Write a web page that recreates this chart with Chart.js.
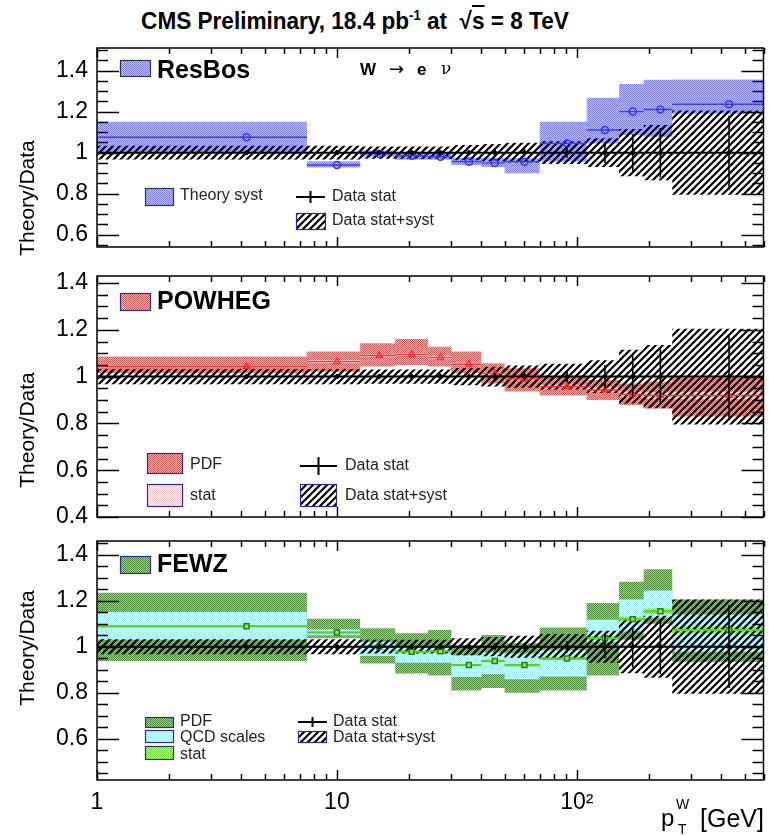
<!DOCTYPE html>
<html>
<head>
<meta charset="utf-8">
<script src="https://cdn.jsdelivr.net/npm/chart.js@4.4.1/dist/chart.umd.min.js"></script>
<style>
  body { margin: 0; background: #fff; }
  #wrap { position: relative; width: 769px; height: 836px; font-family: 'Liberation Sans', Arial, sans-serif; color: #000; }
  #wrap canvas { position: absolute; left: 0; top: 0; }
  .txt { position: absolute; white-space: nowrap; line-height: 1; }
  #title { left: 0; width: 710px; top: 8px; text-align: center; font-weight: bold; font-size: 24px; transform: scaleX(0.94); transform-origin: 354px 0; }
  #title sup { font-size: 14px; vertical-align: 9px; }
  .ov { text-decoration: overline; }
</style>
</head>
<body>
<div id="wrap">
  <div id="title" class="txt">CMS Preliminary, 18.4 pb<sup>-1</sup> at &nbsp;√<span class="ov">s</span> = 8 TeV</div>
  <canvas id="resbos" width="769" height="836"></canvas>
  <canvas id="powheg" width="769" height="836"></canvas>
  <canvas id="fewz" width="769" height="836"></canvas>
  <div class="txt" style="left:661px; top:806px; font-size:24px;">p</div>
  <div class="txt" style="left:676px; top:797px; font-size:14px;">W</div>
  <div class="txt" style="left:678px; top:822px; font-size:14px;">T</div>
  <div class="txt" style="left:700px; top:806px; font-size:25px;">[GeV]</div>
</div>
<script>
// pT bins (GeV) and the mean pT of each bin
const BIN_EDGES = [1, 7.5, 12.5, 17.5, 24, 30, 40, 50, 70, 110, 150, 190, 250, 600];
const BIN_MEAN = [4.2, 10, 15, 20.5, 27, 35.5, 45.5, 60.5, 91, 131, 171, 223, 431];

// data / data, with stat and stat+syst half widths
const DATA_RATIO = [1, 1, 1, 1, 1, 1, 1, 1, 1, 1, 1, 1, 1];
const DATA_STAT = [0.008, 0.01, 0.01, 0.01, 0.012, 0.012, 0.015, 0.018, 0.025, 0.05, 0.09, 0.12, 0.18];
const DATA_TOTAL = [0.033, 0.033, 0.03, 0.03, 0.03, 0.037, 0.042, 0.048, 0.055, 0.07, 0.115, 0.135, 0.205];

// ResBos / data
const RESBOS = [1.075, 0.94, 0.995, 0.985, 0.98, 0.956, 0.95, 0.956, 1.045, 1.11, 1.2, 1.21, 1.236];
const RESBOS_LO = [1.0, 0.928, 0.98, 0.965, 0.965, 0.94, 0.93, 0.9, 0.956, 1.045, 1.086, 1.078, 1.19];
const RESBOS_HI = [1.15, 0.958, 1.01, 1.0, 0.995, 0.975, 0.975, 0.972, 1.151, 1.268, 1.335, 1.355, 1.356];

// POWHEG / data
const POWHEG = [1.043, 1.064, 1.09, 1.095, 1.081, 1.053, 1.014, 0.99, 0.957, 0.943, 0.924, 0.919, 0.919];
const POWHEG_PDF_LO = [1.014, 1.021, 1.043, 1.05, 1.043, 1.014, 0.971, 0.936, 0.919, 0.9, 0.879, 0.864, 0.83];
const POWHEG_PDF_HI = [1.086, 1.107, 1.143, 1.161, 1.128, 1.107, 1.057, 1.036, 1.0, 0.986, 0.971, 0.979, 0.995];
const POWHEG_STAT = [0.005, 0.006, 0.006, 0.006, 0.006, 0.006, 0.007, 0.007, 0.008, 0.01, 0.012, 0.014, 0.016];

// FEWZ / data
const FEWZ = [1.089, 1.062, 1.0, 0.978, 0.98, 0.92, 0.938, 0.92, 0.949, 1.037, 1.12, 1.154, 1.073];
const FEWZ_PDF_LO = [0.938, 1.037, 0.927, 0.883, 0.875, 0.81, 0.82, 0.8, 0.81, 0.875, 1.03, 1.1, 0.934];
const FEWZ_PDF_HI = [1.235, 1.122, 1.08, 1.059, 1.073, 1.007, 1.051, 1.015, 1.084, 1.19, 1.283, 1.337, 1.205];
const FEWZ_QCD_LO = [1.03, 1.05, 0.96, 0.93, 0.93, 0.868, 0.88, 0.858, 0.87, 1.02, 1.066, 1.125, 0.978];
const FEWZ_QCD_HI = [1.151, 1.075, 1.02, 1.0, 1.0, 0.963, 0.975, 0.97, 0.985, 1.117, 1.205, 1.245, 1.14];
const FEWZ_STAT = [0.005, 0.005, 0.005, 0.005, 0.005, 0.005, 0.006, 0.006, 0.007, 0.008, 0.01, 0.012, 0.014];

const X_TICKS = [1, 10, 100];
const X_LABELS = ['1', '10', '10²'];

Chart.defaults.font.family = "'Liberation Sans', Arial, sans-serif";
Chart.defaults.color = '#000';

function checker(a, b) {
  const c = document.createElement('canvas');
  c.width = 2; c.height = 2;
  const g = c.getContext('2d');
  g.fillStyle = b; g.fillRect(0, 0, 2, 2);
  g.fillStyle = a; g.fillRect(0, 0, 1, 1); g.fillRect(1, 1, 1, 1);
  return g.createPattern(c, 'repeat');
}

function hatch() {
  const s = 7;
  const c = document.createElement('canvas');
  c.width = s; c.height = s;
  const g = c.getContext('2d');
  g.strokeStyle = '#000';
  g.lineWidth = 2.2;
  g.beginPath();
  g.moveTo(0, s); g.lineTo(s, 0);
  g.moveTo(-1, 1); g.lineTo(1, -1);
  g.moveTo(s - 1, s + 1); g.lineTo(s + 1, s - 1);
  g.stroke();
  return g.createPattern(c, 'repeat');
}

const FILL = {
  resbos: checker('#7c7cff', '#c4c4ff'),
  powhegPdf: checker('#cf5a5a', '#f2b8b8'),
  powhegStat: checker('#f6caca', '#fff0f0'),
  fewzPdf: checker('#4c8a38', '#a9c99a'),
  fewzQcd: checker('#a6eefa', '#d6fbff'),
  fewzStat: checker('#72dd3a', '#b8f59a'),
  hatch: hatch()
};

// one point per bin edge, stepped so each bin is a flat box
function stepLine(vals) {
  return BIN_EDGES.map((x, i) => ({ x, y: vals[Math.min(i, vals.length - 1)] }));
}

// a flat segment across each bin, broken between bins
function binSegments(vals) {
  const pts = [];
  vals.forEach((v, i) => {
    pts.push({ x: BIN_EDGES[i], y: v }, { x: BIN_EDGES[i + 1], y: v }, { x: BIN_EDGES[i + 1], y: null });
  });
  return pts;
}

function errorBars(vals, errs) {
  const pts = [];
  vals.forEach((v, i) => {
    pts.push({ x: BIN_MEAN[i], y: v - errs[i] }, { x: BIN_MEAN[i], y: v + errs[i] }, { x: BIN_MEAN[i], y: null });
  });
  return pts;
}

const plus = (a, b) => a.map((v, i) => v + b[i]);
const minus = (a, b) => a.map((v, i) => v - b[i]);

const noLine = { borderWidth: 0, borderColor: 'rgba(0,0,0,0)', pointRadius: 0 };

function band(hi, lo, fill, order) {
  return [
    { data: stepLine(hi), stepped: true, fill: '+1', backgroundColor: fill, order, ...noLine },
    { data: stepLine(lo), stepped: true, fill: false, order, ...noLine }
  ];
}

function dataLayers() {
  return [
    ...band(plus(DATA_RATIO, DATA_TOTAL), minus(DATA_RATIO, DATA_TOTAL), FILL.hatch, 5),
    { data: binSegments(DATA_RATIO), borderColor: '#000', borderWidth: 2, pointRadius: 0, order: 1 },
    { data: errorBars(DATA_RATIO, DATA_STAT), borderColor: '#000', borderWidth: 1.6, pointRadius: 0, order: 1 },
    { data: DATA_RATIO.map((y, i) => ({ x: BIN_MEAN[i], y })), showLine: false, pointRadius: 2,
      pointBackgroundColor: '#000', pointBorderColor: '#000', order: 0 }
  ];
}

function theoryLayers(vals, color, lineWidth, marker) {
  return [
    { data: binSegments(vals), borderColor: color, borderWidth: lineWidth, pointRadius: 0, order: 3 },
    { data: vals.map((y, i) => ({ x: BIN_MEAN[i], y })), showLine: false, order: 2,
      pointStyle: marker.style, pointRadius: marker.radius, pointBorderWidth: 1.5,
      pointBorderColor: marker.border, pointBackgroundColor: marker.fill }
  ];
}

// frame, inward ticks, in-panel legend and axis title
const panelDecor = {
  id: 'panelDecor',
  afterDraw(chart, args, opts) {
    const ctx = chart.ctx;
    const { left, right, top, bottom } = chart.chartArea;
    const xs = chart.scales.x, ys = chart.scales.y;
    ctx.save();
    ctx.strokeStyle = '#000';
    ctx.lineWidth = 1.5;
    const seg = (x1, y1, x2, y2) => { ctx.beginPath(); ctx.moveTo(x1, y1); ctx.lineTo(x2, y2); ctx.stroke(); };

    for (let k = Math.ceil(ys.min / 0.05 - 1e-6); k * 0.05 <= ys.max + 1e-9; k++) {
      const v = k * 0.05;
      const major = Math.abs(v / 0.2 - Math.round(v / 0.2)) < 1e-6;
      const len = major ? 22 : 11;
      const py = Math.round(ys.getPixelForValue(v)) + 0.5;
      seg(left, py, left + len, py);
      seg(right, py, right - len, py);
    }
    for (const d of X_TICKS) {
      for (let m = 1; m <= 9; m++) {
        const v = m * d;
        if (v > xs.max) break;
        const len = m === 1 ? 10 : 6;
        const px = Math.round(xs.getPixelForValue(v)) + 0.5;
        seg(px, bottom, px, bottom - len);
        seg(px, top, px, top + len);
      }
    }
    ctx.strokeRect(left, top, right - left, bottom - top);

    // axis title
    ctx.fillStyle = '#000';
    ctx.font = "21px 'Liberation Sans', Arial, sans-serif";
    ctx.textAlign = 'center';
    ctx.textBaseline = 'middle';
    ctx.save();
    ctx.translate(opts.titleX, opts.titleY);
    ctx.rotate(-Math.PI / 2);
    ctx.fillText('Theory/Data', 0, 0);
    ctx.restore();

    ctx.textAlign = 'left';
    for (const it of opts.items) {
      if (it.box) {
        const [x, y, w, h] = it.box;
        ctx.fillStyle = '#fff';
        ctx.fillRect(x, y, w, h);
        ctx.fillStyle = it.fill;
        ctx.fillRect(x, y, w, h);
        ctx.lineWidth = 1.2;
        ctx.strokeStyle = it.border || '#2a2a9a';
        ctx.strokeRect(x + 0.5, y + 0.5, w - 1, h - 1);
      }
      if (it.cross) {
        const [x1, x2, y, h] = it.cross;
        ctx.strokeStyle = '#000';
        ctx.lineWidth = 2;
        seg(x1, y, x2, y);
        seg((x1 + x2) / 2, y - h, (x1 + x2) / 2, y + h);
      }
      if (it.text) {
        ctx.fillStyle = it.color || '#222';
        ctx.font = it.font || "16px 'Liberation Sans', Arial, sans-serif";
        ctx.fillText(it.text, it.tx, it.ty);
      }
    }
    ctx.restore();
  }
};

const BOLD = "bold 25px 'Liberation Sans', Arial, sans-serif";

function makePanel(id, cfg) {
  new Chart(document.getElementById(id), {
    type: 'line',
    data: { datasets: cfg.datasets },
    options: {
      responsive: false,
      animation: false,
      devicePixelRatio: 1,
      events: [],
      layout: { padding: { left: 0, right: 3, top: cfg.top, bottom: cfg.bottom } },
      scales: {
        x: {
          type: 'logarithmic', min: 1, max: 600, display: cfg.showX,
          afterBuildTicks: s => { s.ticks = X_TICKS.map(value => ({ value })); },
          afterFit: s => { if (cfg.showX) s.height = 56; },
          ticks: { autoSkip: false, maxRotation: 0, padding: 9, font: { size: 23 },
            callback: v => X_LABELS[X_TICKS.indexOf(v)] },
          grid: { display: false, drawTicks: false },
          border: { display: false }
        },
        y: {
          min: cfg.yMin, max: cfg.yMax,
          afterBuildTicks: s => { s.ticks = cfg.yTicks.map(value => ({ value })); },
          afterFit: s => { s.width = 97; },
          ticks: { padding: 9, font: { size: 23 }, callback: v => String(v) },
          grid: { display: false, drawTicks: false },
          border: { display: false }
        }
      },
      plugins: {
        legend: { display: false },
        tooltip: { enabled: false },
        panelDecor: cfg.decor
      }
    },
    plugins: [panelDecor]
  });
}

makePanel('resbos', {
  top: 48, bottom: 836 - 247, showX: false,
  yMin: 0.54, yMax: 1.51, yTicks: [0.6, 0.8, 1, 1.2, 1.4],
  datasets: [
    ...band(RESBOS_HI, RESBOS_LO, FILL.resbos, 10),
    ...theoryLayers(RESBOS, '#3a3aff', 1.4, { style: 'circle', radius: 3.5, border: '#2f2fff', fill: 'rgba(255,255,255,0)' }),
    ...dataLayers()
  ],
  decor: {
    titleX: 28, titleY: 198,
    items: [
      { box: [120, 60, 31, 17], fill: FILL.resbos, border: '#333', text: 'ResBos', tx: 157, ty: 71, font: BOLD, color: '#000' },
      { text: 'W', tx: 360, ty: 70, font: "bold 17px 'Liberation Sans', Arial, sans-serif", color: '#000' },
      { text: '→', tx: 389, ty: 70, font: "18px 'DejaVu Sans', sans-serif", color: '#000' },
      { text: 'e', tx: 417, ty: 70, font: "bold 17px 'Liberation Sans', Arial, sans-serif", color: '#000' },
      { text: 'ν', tx: 441, ty: 70, font: "17px 'DejaVu Serif', serif", color: '#000' },
      { box: [145, 188, 29, 18], fill: FILL.resbos, border: '#333', text: 'Theory syst', tx: 180, ty: 196 },
      { cross: [296, 325, 197, 6], text: 'Data stat', tx: 332, ty: 197 },
      { box: [296, 213, 30, 17], fill: FILL.hatch, text: 'Data stat+syst', tx: 332, ty: 221 }
    ]
  }
});

makePanel('powheg', {
  top: 276, bottom: 836 - 517, showX: false,
  yMin: 0.4, yMax: 1.43, yTicks: [0.4, 0.6, 0.8, 1, 1.2, 1.4],
  datasets: [
    ...band(POWHEG_PDF_HI, POWHEG_PDF_LO, FILL.powhegPdf, 11),
    ...band(plus(POWHEG, POWHEG_STAT), minus(POWHEG, POWHEG_STAT), FILL.powhegStat, 10),
    ...theoryLayers(POWHEG, '#ff2a2a', 1.4, { style: 'triangle', radius: 3.5, border: '#ff2a2a', fill: 'rgba(255,255,255,0)' }),
    ...dataLayers()
  ],
  decor: {
    titleX: 28, titleY: 430,
    items: [
      { box: [120, 293, 31, 18], fill: FILL.powhegPdf, text: 'POWHEG', tx: 157, ty: 302, font: BOLD, color: '#000' },
      { box: [147, 453, 36, 21], fill: FILL.powhegPdf, text: 'PDF', tx: 190, ty: 465 },
      { box: [147, 484, 36, 23], fill: FILL.powhegStat, text: 'stat', tx: 190, ty: 496 },
      { cross: [300, 337, 466, 9], text: 'Data stat', tx: 345, ty: 466 },
      { box: [300, 484, 37, 23], fill: FILL.hatch, text: 'Data stat+syst', tx: 345, ty: 496 }
    ]
  }
});

makePanel('fewz', {
  top: 541, bottom: 0, showX: true,
  yMin: 0.42, yMax: 1.46, yTicks: [0.6, 0.8, 1, 1.2, 1.4],
  datasets: [
    ...band(FEWZ_PDF_HI, FEWZ_PDF_LO, FILL.fewzPdf, 12),
    ...band(FEWZ_QCD_HI, FEWZ_QCD_LO, FILL.fewzQcd, 11),
    ...band(plus(FEWZ, FEWZ_STAT), minus(FEWZ, FEWZ_STAT), FILL.fewzStat, 10),
    ...theoryLayers(FEWZ, '#5ad11a', 2, { style: 'rect', radius: 3.5, border: '#2c7a12', fill: '#8fe05a' }),
    ...dataLayers()
  ],
  decor: {
    titleX: 28, titleY: 648,
    items: [
      { box: [120, 556, 31, 18], fill: FILL.fewzPdf, text: 'FEWZ', tx: 157, ty: 565, font: BOLD, color: '#000' },
      { box: [145, 717, 29, 11], fill: FILL.fewzPdf, text: 'PDF', tx: 180, ty: 722 },
      { box: [145, 730, 29, 13], fill: FILL.fewzQcd, text: 'QCD scales', tx: 180, ty: 738 },
      { box: [145, 746, 29, 14], fill: FILL.fewzStat, text: 'stat', tx: 180, ty: 755 },
      { cross: [298, 327, 722, 5], text: 'Data stat', tx: 333, ty: 722 },
      { box: [298, 731, 29, 12], fill: FILL.hatch, text: 'Data stat+syst', tx: 333, ty: 738 }
    ]
  }
});
</script>
</body>
</html>
